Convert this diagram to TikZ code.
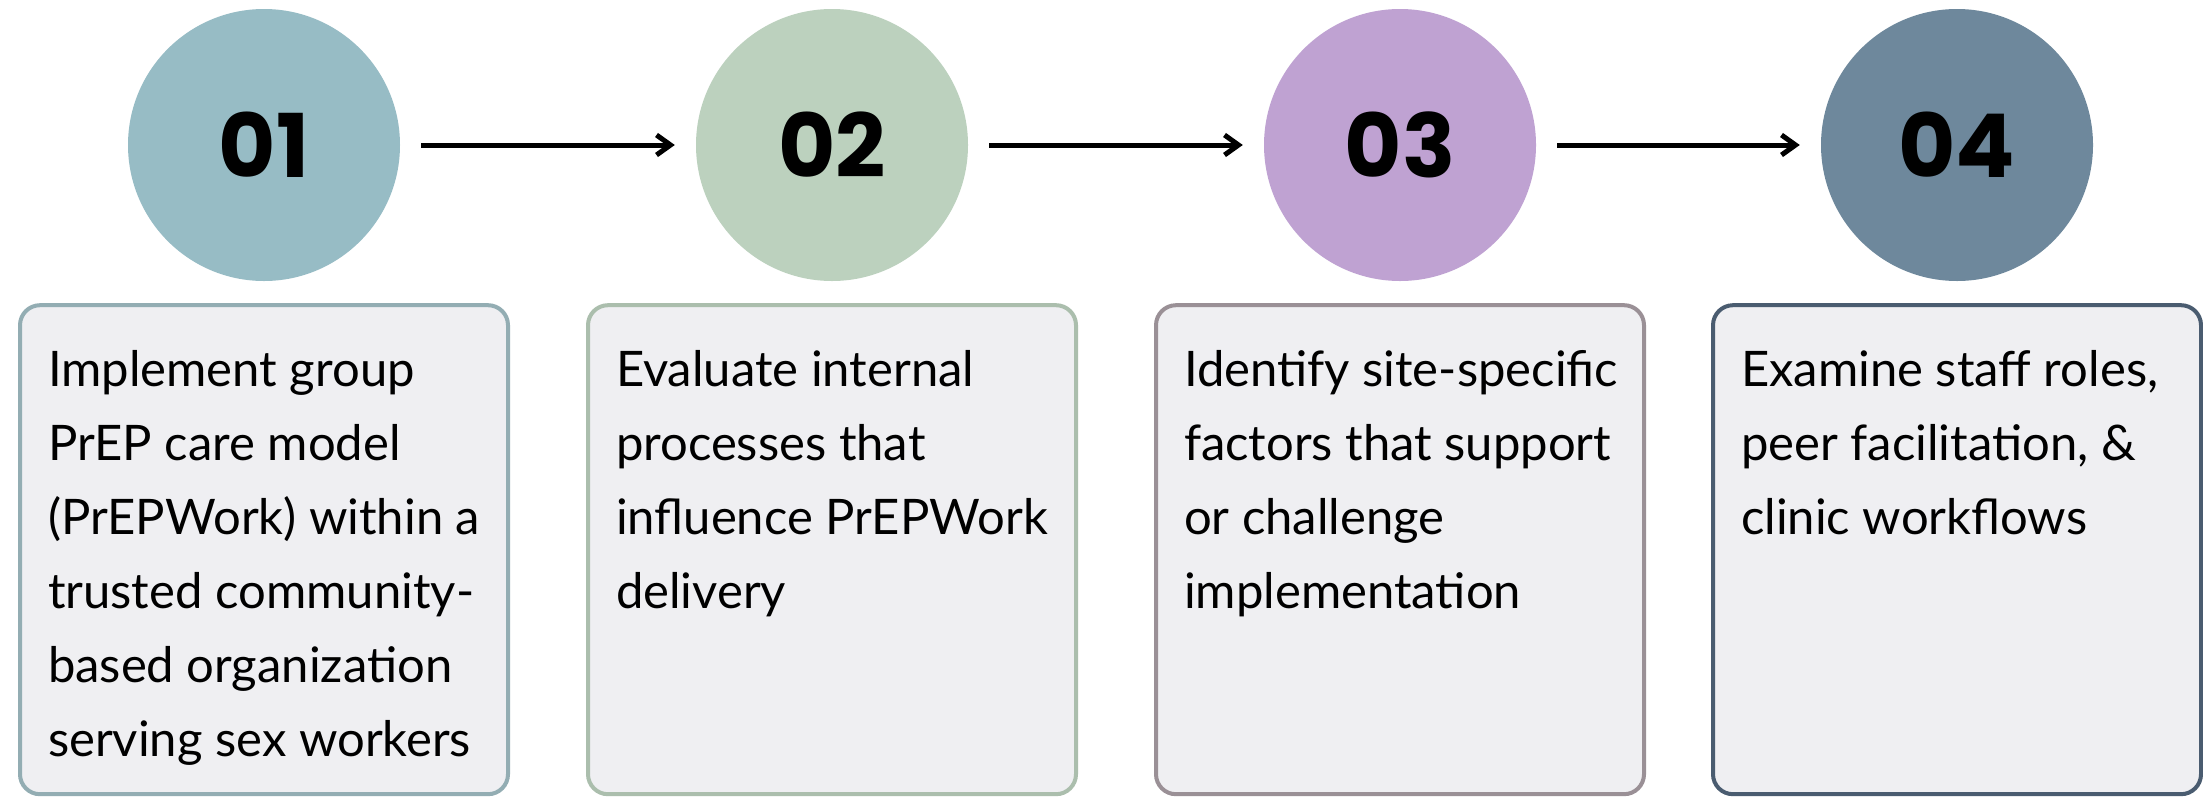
\documentclass[tikz,border=0pt]{standalone}
\usepackage{fontspec}
\setmainfont{Lato}
\newfontfamily\numfont{Poppins}
\usetikzlibrary{arrows.meta,positioning}
\definecolor{tealc}{HTML}{97BCC5}
\definecolor{sagec}{HTML}{BCD1BE}
\definecolor{lilac}{HTML}{BFA2D2}
\definecolor{slate}{HTML}{6E889C}
\definecolor{tealb}{HTML}{93ADB3}
\definecolor{sageb}{HTML}{ABBEAD}
\definecolor{lilacb}{HTML}{9A9096}
\definecolor{slateb}{HTML}{4A5C70}
\definecolor{boxfill}{HTML}{EFEFF2}
\tikzset{>={Straight Barb[length=14pt,width=20pt]},
  stepcirc/.style={circle,minimum size=272pt,inner sep=0pt,
    font=\numfont\bfseries\fontsize{88}{88}\selectfont},
  descbox/.style={rectangle,rounded corners=20pt,line width=4pt,fill=boxfill,
    inner xsep=28pt,inner ysep=45pt,anchor=north,
    font=\fontsize{49}{74}\selectfont},
  flowarrow/.style={->,line width=5pt,shorten <=21pt,shorten >=21pt}}
\newcommand{\desctext}[1]{\parbox[t][399pt][t]{432pt}{\raggedright #1}}

\begin{document}
\begin{tikzpicture}[x=1pt,y=1pt]
  \useasboundingbox (0,0) rectangle (2203,-801);
  \fill[white] (0,0) rectangle (2203,-801);

  % numbered steps
  \node[stepcirc,fill=tealc] (c1) at (264,-145) {01};
  \node[stepcirc,fill=sagec] (c2) at (832,-145) {02};
  \node[stepcirc,fill=lilac] (c3) at (1400,-145) {03};
  \node[stepcirc,fill=slate] (c4) at (1957,-145) {04};

  \draw[flowarrow] (c1) -- (c2);
  \draw[flowarrow] (c2) -- (c3);
  \draw[flowarrow] (c3) -- (c4);

  % descriptions
  \node[descbox,draw=tealb,below=22pt of c1] (d1) {\desctext{Implement group\\
    PrEP care model\\ (PrEPWork) within a\\ trusted community-\\
    based organization\\ serving sex workers}};
  \node[descbox,draw=sageb,below=22pt of c2] (d2) {\desctext{Evaluate internal\\
    processes that\\ influence PrEPWork\\ delivery}};
  \node[descbox,draw=lilacb,below=22pt of c3] (d3) {\desctext{\mbox{Identify site-specific}\\
    factors that support\\ or challenge\\ implementation}};
  \node[descbox,draw=slateb,below=22pt of c4] (d4) {\desctext{Examine staff roles,\\
    peer facilitation, \&\\ clinic workflows}};
\end{tikzpicture}
\end{document}
